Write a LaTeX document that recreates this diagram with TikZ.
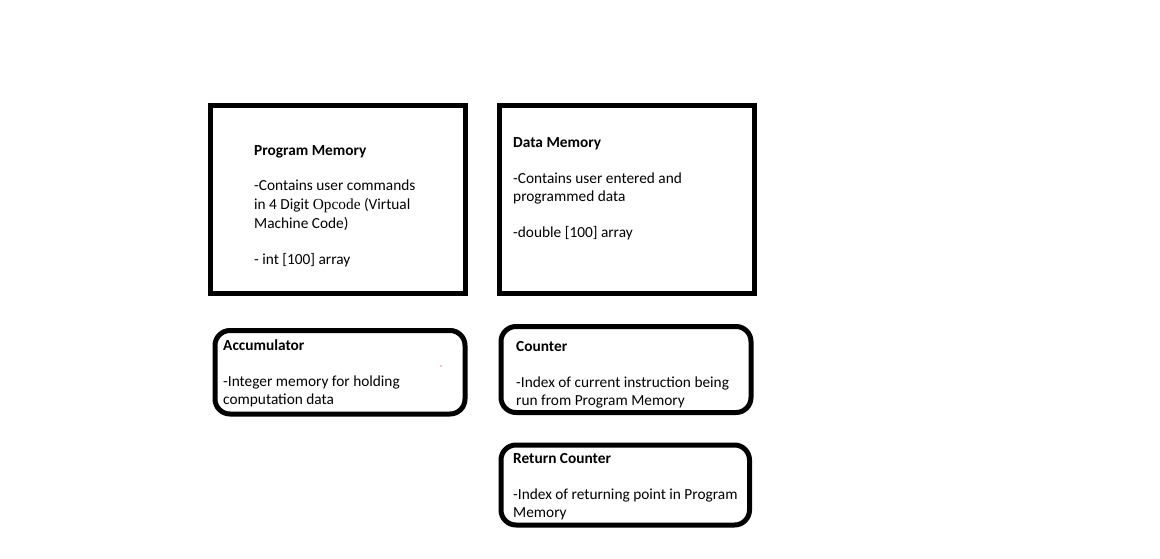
\documentclass[tikz,border=0pt]{standalone}
\usepackage{fontspec}
\setmainfont{Carlito}
\newfontfamily\opfont{Liberation Serif}
\begin{document}
\begin{tikzpicture}[x=1pt,y=-1pt,
  sqbox/.style={draw=black,line width=5pt},
  rbox/.style={draw=black,line width=5pt,rounded corners=15pt},
  txt/.style={anchor=base west,inner sep=0pt,font=\fontsize{15.35}{19}\selectfont},
  ttl/.style={txt,font=\fontsize{15.35}{19}\selectfont\bfseries}]
\useasboundingbox (0,0) rectangle (1160,558);
\fill[white] (0,0) rectangle (1160,558);
% boxes
\draw[sqbox] (210.5,105.5) rectangle (465,293.5);
\draw[sqbox] (499,105) rectangle (754,293.5);
\draw[rbox] (215,330.5) rectangle (465,414);
\draw[rbox] (501,326.5) rectangle (751,412.5);
\draw[rbox] (501,445) rectangle (749.5,525);
% Program Memory
\node[ttl] (pmt) at (254,155) {Program Memory};
\node[txt] (pm1) at (254,190) {-Contains user commands};
\node[txt] (pm2) at (254,209) {in 4 Digit {\opfont Opcode} (Virtual};
\node[txt] (pm3) at (254,228) {Machine Code)};
\node[txt] (pm4) at (254,264) {- int [100] array};
% Data Memory
\node[ttl] (dmt) at (513,147) {Data Memory};
\node[txt] (dm1) at (513,183) {-Contains user entered and};
\node[txt] (dm2) at (513,201) {programmed data};
\node[txt] (dm3) at (513,237) {-double [100] array};
% Accumulator
\node[ttl] (act) at (223,350) {Accumulator};
\node[txt] (ac1) at (223,386) {-Integer memory for holding};
\node[txt] (ac2) at (223,404) {computation data};
\fill[red!60!black] (441,366) circle (0.7);
% Counter
\node[ttl] (cot) at (516,351) {Counter};
\node[txt] (co1) at (516,387) {-Index of current instruction being};
\node[txt] (co2) at (516,405) {run from Program Memory};
% Return Counter
\node[ttl] (rct) at (513,463) {Return Counter};
\node[txt] (rc1) at (513,499) {-Index of returning point in Program};
\node[txt] (rc2) at (513,517) {Memory};
\end{tikzpicture}
\end{document}
